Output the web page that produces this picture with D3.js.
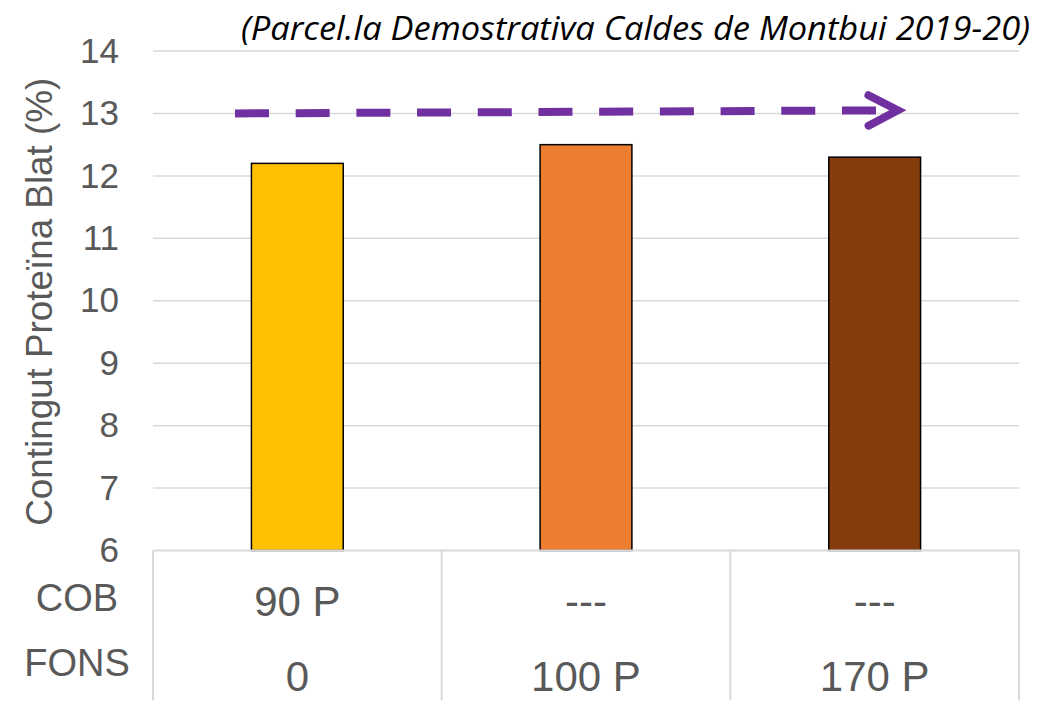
<!DOCTYPE html>
<html>
<head>
<meta charset="utf-8">
<script src="https://cdn.jsdelivr.net/npm/d3@7"></script>
<style>
  body { margin: 0; background: #fff; }
  text { font-family: "Liberation Sans", Arial, sans-serif; fill: #595959; }
</style>
</head>
<body>
<div id="vis"></div>
<script>
// chart data
const cobLabels = ["90 P", "---", "---"];
const fonsLabels = ["0", "100 P", "170 P"];
const proteina = [12.2, 12.5, 12.3];
const rowHeaders = ["COB", "FONS"];
const yTicks = [6, 7, 8, 9, 10, 11, 12, 13, 14];
const trendValues = [13.0, 13.05];   // start / end of the dashed arrow
const titleText = "(Parcel.la Demostrativa Caldes de Montbui 2019-20)";
const yLabel = "Contingut Proteïna Blat (%)";

const BAR_COLORS = ["#FFC000", "#ED7D31", "#843C0C"];

const FRAME_WIDTH = 1051;
const FRAME_HEIGHT = 707;
const MARGINS = {left: 153, right: 32, top: 51, bottom: 156.5};

const VIS_WIDTH = FRAME_WIDTH - MARGINS.left - MARGINS.right;
const VIS_HEIGHT = FRAME_HEIGHT - MARGINS.top - MARGINS.bottom;

const FRAME1 = d3.select("#vis")
                  .append("svg")
                    .attr("width", FRAME_WIDTH)
                    .attr("height", FRAME_HEIGHT);

const idx = d3.range(proteina.length);

const X_SCALE = d3.scaleBand()
                    .domain(idx)
                    .range([MARGINS.left, MARGINS.left + VIS_WIDTH])
                    .paddingInner(0.682)
                    .paddingOuter(0.341);

// continuous x in "category units", used for the arrow
const X_LIN = d3.scaleLinear()
                  .domain([0, proteina.length])
                  .range([MARGINS.left, MARGINS.left + VIS_WIDTH]);

const Y_SCALE = d3.scaleLinear()
                    .domain([6, 14])
                    .range([MARGINS.top + VIS_HEIGHT, MARGINS.top]);

// gridlines
FRAME1.append("g")
  .selectAll("line")
  .data(yTicks.slice(1))
  .enter()
  .append("line")
    .attr("x1", MARGINS.left)
    .attr("x2", MARGINS.left + VIS_WIDTH)
    .attr("y1", d => Y_SCALE(d))
    .attr("y2", d => Y_SCALE(d))
    .attr("stroke", "#d9d9d9")
    .attr("stroke-width", 1.5);

// y axis labels
const yAxis = FRAME1.append("g")
  .attr("transform", "translate(" + (MARGINS.left - 34) + ",0)")
  .call(d3.axisLeft(Y_SCALE).tickValues(yTicks).tickSize(0).tickPadding(0));
yAxis.select(".domain").remove();
yAxis.selectAll("text")
  .style("font-size", "35px")
  .attr("fill", "#595959")
  .attr("font-family", "Liberation Sans, Arial, sans-serif");

// bars
FRAME1.selectAll(".bar")
  .data(idx)
  .enter()
  .append("rect")
    .attr("class", "bar")
    .attr("x", d => X_SCALE(d))
    .attr("y", d => Y_SCALE(proteina[d]))
    .attr("width", X_SCALE.bandwidth())
    .attr("height", d => Y_SCALE(6) - Y_SCALE(proteina[d]))
    .attr("fill", d => BAR_COLORS[d])
    .attr("stroke", "#000")
    .attr("stroke-width", 1.5);

// bottom table lines
const baseY = Y_SCALE(6);
FRAME1.append("line")
  .attr("x1", MARGINS.left).attr("x2", MARGINS.left + VIS_WIDTH)
  .attr("y1", baseY).attr("y2", baseY)
  .attr("stroke", "#d9d9d9").attr("stroke-width", 2);

FRAME1.append("g")
  .selectAll("line")
  .data(d3.range(proteina.length + 1))
  .enter()
  .append("line")
    .attr("x1", d => X_LIN(d))
    .attr("x2", d => X_LIN(d))
    .attr("y1", baseY)
    .attr("y2", baseY + 150)
    .attr("stroke", "#d9d9d9")
    .attr("stroke-width", 2);

// table values
FRAME1.append("g")
  .selectAll("text")
  .data(idx)
  .enter()
  .append("text")
    .attr("x", d => X_SCALE(d) + X_SCALE.bandwidth() / 2)
    .attr("y", baseY + 65)
    .attr("text-anchor", "middle")
    .style("font-size", "42px")
    .text(d => cobLabels[d]);

FRAME1.append("g")
  .selectAll("text")
  .data(idx)
  .enter()
  .append("text")
    .attr("x", d => X_SCALE(d) + X_SCALE.bandwidth() / 2)
    .attr("y", baseY + 140)
    .attr("text-anchor", "middle")
    .style("font-size", "42px")
    .text(d => fonsLabels[d]);

// row headers
FRAME1.append("g")
  .selectAll("text")
  .data(rowHeaders)
  .enter()
  .append("text")
    .attr("x", 77)
    .attr("y", (d, i) => baseY + 60 + i * 65)
    .attr("text-anchor", "middle")
    .style("font-size", "38px")
    .text(d => d);

// y axis title
FRAME1.append("text")
  .attr("transform", "translate(52," + ((Y_SCALE(6) + Y_SCALE(14)) / 2 + 1) + ") rotate(-90)")
  .attr("text-anchor", "middle")
  .style("font-size", "36.8px")
  .text(yLabel);

// chart title
FRAME1.append("text")
  .attr("x", 241)
  .attr("y", 40)
  .attr("textLength", 789)
  .attr("lengthAdjust", "spacingAndGlyphs")
  .style("font-family", "'Open Sans', sans-serif")
  .style("font-style", "italic")
  .style("font-size", "32px")
  .style("fill", "#000")
  .text(titleText);

// dashed trend arrow
const ax1 = X_LIN(0.284), ay1 = Y_SCALE(trendValues[0]);
const ax2 = X_LIN(2.58), ay2 = Y_SCALE(trendValues[1]);
FRAME1.append("line")
  .attr("x1", ax1).attr("y1", ay1)
  .attr("x2", ax2).attr("y2", ay2)
  .attr("stroke", "#7030A0")
  .attr("stroke-width", 8)
  .attr("stroke-dasharray", "34 26.7");

const ang = Math.atan2(ay2 - ay1, ax2 - ax1);
const headLen = 33, headAng = 0.48;
FRAME1.append("path")
  .attr("d", d3.line()([
    [ax2 - headLen * Math.cos(ang - headAng), ay2 - headLen * Math.sin(ang - headAng)],
    [ax2, ay2],
    [ax2 - headLen * Math.cos(ang + headAng), ay2 - headLen * Math.sin(ang + headAng)]
  ]))
  .attr("fill", "none")
  .attr("stroke", "#7030A0")
  .attr("stroke-width", 8)
  .attr("stroke-linecap", "round")
  .attr("stroke-linejoin", "miter");
</script>
</body>
</html>
